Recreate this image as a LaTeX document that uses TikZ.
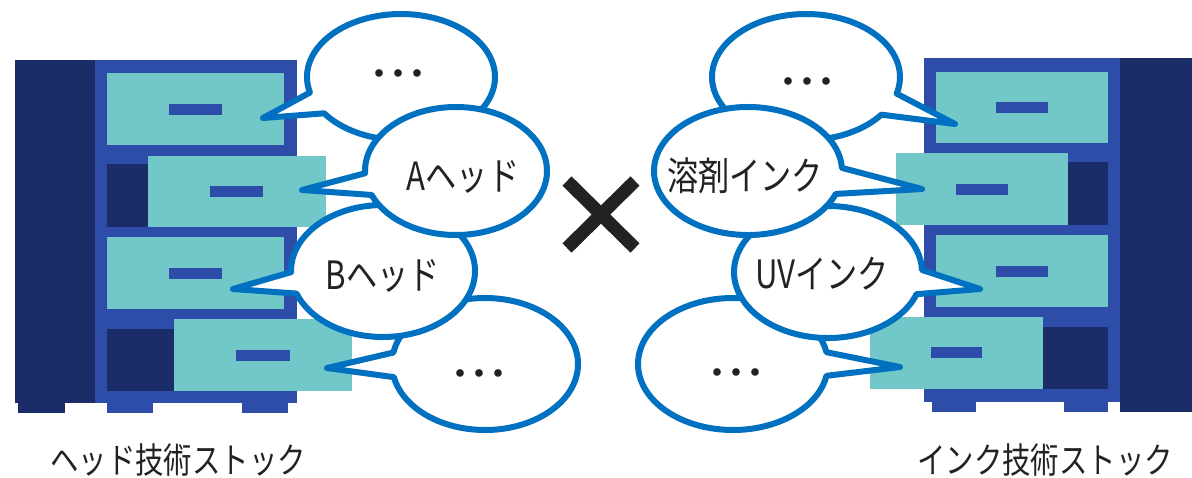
\documentclass[tikz,border=0pt]{standalone}
\usepackage{tikz}
\usepackage{fontspec}
\newfontfamily\jpfont{Noto Sans CJK JP}[FakeStretch=0.8]

\definecolor{cabDark}{HTML}{1B2D69}
\definecolor{cabBody}{HTML}{2E4DA8}
\definecolor{drawerTeal}{HTML}{72C8C8}
\definecolor{bubbleBlue}{HTML}{0070C0}
\definecolor{inkBlack}{HTML}{222222}

\newcommand{\bubbledots}{\makebox[19pt][c]{\textbullet}\makebox[19pt][c]{\textbullet}\makebox[19pt][c]{\textbullet}}

\tikzset{
  cabside/.style={fill=cabDark},
  cabbody/.style={fill=cabBody},
  drawer/.style={fill=drawerTeal},
  recess/.style={fill=cabDark},
  handle/.style={fill=cabBody},
  bubble/.style={draw=bubbleBlue, fill=white, line width=6pt, line join=round},
  bubbletext/.style={text=inkBlack, font=\jpfont\fontsize{39}{42}\selectfont, inner sep=0pt},
  dots/.style={text=inkBlack, font=\fontsize{34}{36}\selectfont, inner sep=0pt},
  stocklabel/.style={text=inkBlack, font=\jpfont\fontsize{35.5}{38}\selectfont, inner sep=0pt},
  crossmark/.style={draw=inkBlack, line width=13pt}
}

\begin{document}
\begin{tikzpicture}[x=1pt, y=-1pt]
\useasboundingbox (0,0) rectangle (1192,477);

%Head stock cabinet
\fill[cabside] (15,60) rectangle (95,403);
\fill[cabbody] (95,60) rectangle (297,403);
\fill[cabside] (18,403) rectangle (65,413);
\fill[cabbody] (107,403) rectangle (153,413);
\fill[cabbody] (242,403) rectangle (288,413);

%Drawers, top to bottom
\fill[drawer] (107,73) rectangle (284,145);
\fill[handle] (169,104) rectangle (222,115);
\fill[recess] (107,164) rectangle (148,227);
\fill[drawer] (148,156) rectangle (326,227);
\fill[handle] (210,186) rectangle (263,197);
\fill[drawer] (107,237) rectangle (284,309);
\fill[handle] (169,268) rectangle (222,279);
\fill[recess] (107,329) rectangle (174,391);
\fill[drawer] (174,319) rectangle (352,391);
\fill[handle] (236,350) rectangle (290,361);

%Ink stock cabinet
\fill[cabside] (1120,58) rectangle (1192,412);
\fill[cabbody] (924,58) rectangle (1120,402);
\fill[cabbody] (932,402) rectangle (976,412);
\fill[cabbody] (1064,402) rectangle (1108,412);

%Drawers, top to bottom
\fill[drawer] (936,72) rectangle (1108,143);
\fill[handle] (996,102) rectangle (1048,113);
\fill[recess] (1068,162) rectangle (1108,225);
\fill[drawer] (896,153) rectangle (1068,225);
\fill[handle] (956,184) rectangle (1008,195);
\fill[drawer] (936,235) rectangle (1108,307);
\fill[handle] (996,266) rectangle (1048,277);
\fill[recess] (1043,327) rectangle (1108,389);
\fill[drawer] (870,317) rectangle (1043,389);
\fill[handle] (931,347) rectangle (982,358);

%Head bubbles
\draw[bubble] (485,364) ++(190:93 and 66) arc[start angle=190, end angle=528.5, x radius=93, y radius=66] -- (327,368) -- cycle;
\node[dots] (headMore) at (479,376) {\bubbledots};

\draw[bubble] (383,271) ++(179:92 and 66) arc[start angle=179, end angle=520, x radius=92, y radius=66] -- (233,289) -- cycle;
\node[bubbletext] (headB) at (383,276) {Bヘッド};

\draw[bubble] (401,77) ++(165.7:94 and 63) arc[start angle=165.7, end angle=504.8, x radius=94, y radius=63] -- (263,118) -- cycle;
\node[dots] (headEtc) at (398,76) {\bubbledots};

\draw[bubble] (456,171) ++(178:91 and 64) arc[start angle=178, end angle=518, x radius=91, y radius=64] -- (302,190) -- cycle;
\node[bubbletext] (headA) at (463,177) {Aヘッド};

%Ink bubbles
\draw[bubble] (733,364) ++(10.3:95 and 66) arc[start angle=10.3, end angle=349.7, x radius=95, y radius=66] -- (900,367) -- cycle;
\node[dots] (inkMore) at (736,375) {\bubbledots};

\draw[bubble] (828,272) ++(19.6:94 and 66) arc[start angle=19.6, end angle=358.2, x radius=94, y radius=66] -- (980,289) -- cycle;
\node[bubbletext] (inkUV) at (822,274) {UVインク};

\draw[bubble] (806,77) ++(36.7:94 and 63) arc[start angle=36.7, end angle=375.3, x radius=94, y radius=63] -- (955,124) -- cycle;
\node[dots] (inkEtc) at (807,84) {\bubbledots};

\draw[bubble] (748,171) ++(21:94 and 64) arc[start angle=21, end angle=357.2, x radius=94, y radius=64] -- (922,189) -- cycle;
\node[bubbletext] (inkSolvent) at (745,176) {溶剤インク};

%Cross between the stocks
\coordinate (crossA) at (567,181);
\coordinate (crossB) at (635,248);
\coordinate (crossC) at (635,181);
\coordinate (crossD) at (567,248);
\draw[crossmark] (crossA) -- (crossB);
\draw[crossmark] (crossC) -- (crossD);

%Labels
\node[stocklabel] (headStock) at (178,460) {ヘッド技術ストック};
\node[stocklabel] (inkStock) at (1045,460) {インク技術ストック};

\end{tikzpicture}
\end{document}
